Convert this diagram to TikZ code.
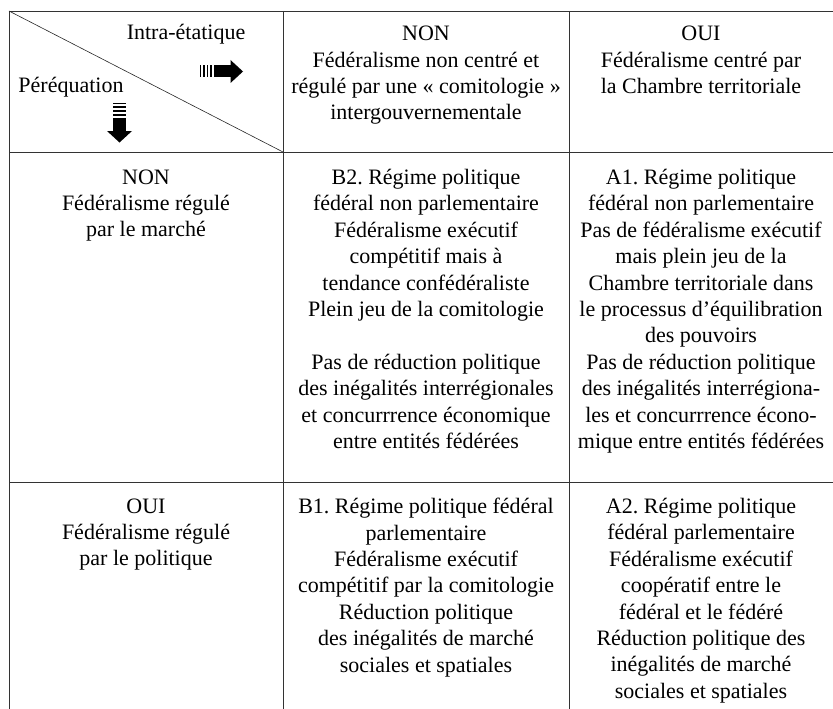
\documentclass[tikz,border=0pt]{standalone}
\usepackage{fontspec}
\setmainfont{Liberation Serif}
\usepackage{tikz}
\frenchspacing

\tikzset{
  cell/.style={align=center, anchor=north, inner sep=0pt},
  label/.style={anchor=base, inner sep=0pt},
  rule/.style={line width=0.9pt, black!80},
}

\begin{document}
\begin{tikzpicture}[x=1pt, y=-1pt, font=\fontsize{22}{26.4}\selectfont]
    \useasboundingbox (0,0) rectangle (833,709);
    \coordinate (tl) at (9,11);
    \coordinate (tr) at (833,11);
    \coordinate (bl) at (9,709);
    \coordinate (c1) at (283,152);
    \draw[rule] (tr) -- (tl) -- (bl);
    \draw[rule] (283,11) -- (283,709);
    \draw[rule] (569,11) -- (569,709);
    \draw[rule] (9,152) -- (833,152);
    \draw[rule] (9,482) -- (833,482);
    \draw[line width=0.6pt, black!85] (tl) -- (c1);
    \node[label] (intra) at (186,39.5) {Intra-étatique};
    \node[label] (pereq) at (71,92.5) {Péréquation};
    \fill (200,65.5) rectangle ++(1.4,12);
    \fill (203.2,65.5) rectangle ++(1.6,12);
    \fill (206.6,65.5) rectangle ++(1.8,12);
    \fill (210.2,65.5) rectangle ++(2.2,12);
    \fill (214,65.5) rectangle (231,77.5);
    \fill (230.5,60) -- (243,71.5) -- (230.5,83) -- cycle;
    \fill (113,103) rectangle ++(13,1.4);
    \fill (113,106.4) rectangle ++(13,1.6);
    \fill (113,110) rectangle ++(13,1.8);
    \fill (113,113.8) rectangle ++(13,2.2);
    \fill (113,118) rectangle (126,131.5);
    \fill (107,131) -- (119.5,142.5) -- (132,131) -- cycle;
    \node[cell] (hnon) at (426,26) {NON\\Fédéralisme non centré et\\régulé par une « comitologie »\\intergouvernementale};
    \node[cell] (houi) at (701,26) {OUI\\Fédéralisme centré par\\la Chambre territoriale};
    \node[cell] (rnon) at (146,169.4) {NON\\Fédéralisme régulé\\par le marché};
    \node[cell] (bdeux) at (426,169) {B2. Régime politique\\fédéral non parlementaire\\Fédéralisme exécutif\\compétitif mais à\\tendance confédéraliste\\Plein jeu de la comitologie\\[26.4pt]Pas de réduction politique\\des inégalités interrégionales\\et concurrrence économique\\entre entités fédérées};
    \node[cell] (aun) at (701,169) {A1. Régime politique\\fédéral non parlementaire\\Pas de fédéralisme exécutif\\mais plein jeu de la\\Chambre territoriale dans\\le processus d’équilibration\\des pouvoirs\\Pas de réduction politique\\des inégalités interrégiona-\\les et concurrrence écono-\\mique entre entités fédérées};
    \node[cell] (roui) at (146,498.4) {OUI\\Fédéralisme régulé\\par le politique};
    \node[cell] (bun) at (426,498) {B1. Régime politique fédéral\\parlementaire\\Fédéralisme exécutif\\compétitif par la comitologie\\Réduction politique\\des inégalités de marché\\sociales et spatiales};
    \node[cell] (adeux) at (701,498) {A2. Régime politique\\fédéral parlementaire\\Fédéralisme exécutif\\coopératif entre le\\fédéral et le fédéré\\Réduction politique des\\inégalités de marché\\sociales et spatiales};
\end{tikzpicture}
\end{document}
